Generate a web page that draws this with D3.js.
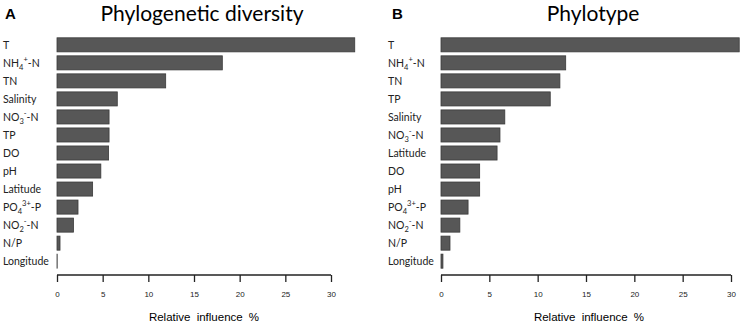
<!DOCTYPE html>
<html>
<head>
<meta charset="utf-8">
<script src="https://cdn.jsdelivr.net/npm/d3@7"></script>
<style>
  body { margin: 0; background: #fff; }
  svg { display: block; }
</style>
</head>
<body>
<svg id="chart" width="743" height="334"></svg>
<script>
// ---- data ----
var varsA = ["T", "NH4+-N", "TN", "Salinity", "NO3--N", "TP", "DO", "pH", "Latitude", "PO43+-P", "NO2--N", "N/P", "Longitude"];
var valsA = [32.6, 18.1, 11.9, 6.6, 5.7, 5.7, 5.65, 4.8, 3.9, 2.3, 1.8, 0.33, 0.02];

var varsB = ["T", "NH4+-N", "TN", "TP", "Salinity", "NO3--N", "Latitude", "DO", "pH", "PO43+-P", "NO2--N", "N/P", "Longitude"];
var valsB = [30.85, 12.9, 12.3, 11.3, 6.6, 6.1, 5.8, 4.0, 4.0, 2.8, 1.95, 0.93, 0.2];

var xTicks = [0, 5, 10, 15, 20, 25, 30];

// chemical labels: [main, sub, sup, rest]
var chem = {
  "NH4+-N": ["NH", "4", "+", "-N"],
  "NO3--N": ["NO", "3", "-", "-N"],
  "PO43+-P": ["PO", "4", "3+", "-P"],
  "NO2--N": ["NO", "2", "-", "-N"]
};

var svg = d3.select("#chart");

function panel(opts) {
  var g = svg.append("g");

  var x = d3.scaleLinear().domain([0, 30]).range([opts.x0, opts.x30]);
  var y = d3.scaleBand().domain(d3.range(opts.names.length))
    .range([36, 270]).paddingInner(0.22).paddingOuter(0.1);

  // panel letter + title
  g.append("text")
    .attr("x", opts.letterX).attr("y", 19)
    .style("font-family", "Liberation Sans, Arial, sans-serif")
    .style("font-weight", "bold").style("font-size", "15px")
    .text(opts.letter);

  g.append("text")
    .attr("x", opts.titleX).attr("y", 21)
    .attr("text-anchor", "middle")
    .style("font-family", "Lato, sans-serif").style("font-size", "21px")
    .text(opts.title);

  // bars
  g.selectAll("rect.bar")
    .data(opts.values)
    .enter().append("rect")
    .attr("class", "bar")
    .attr("x", x(0))
    .attr("y", function (d, i) { return y(i); })
    .attr("width", function (d) { return x(d) - x(0); })
    .attr("height", y.bandwidth())
    .style("fill", "#575757")
    .style("stroke", "#3a3a3a")
    .style("stroke-width", 0.8);

  // variable labels
  var lab = g.selectAll("text.lab")
    .data(opts.names)
    .enter().append("text")
    .attr("class", "lab")
    .attr("x", opts.labelX)
    .attr("y", function (d, i) { return y(i) + y.bandwidth() / 2 + 4; })
    .style("font-family", "Lato, sans-serif").style("font-size", "10.5px")
    .style("fill", "#222");

  lab.each(function (d) {
    var t = d3.select(this);
    var c = chem[d];
    if (!c) { t.text(d); return; }
    t.append("tspan").text(c[0]);
    t.append("tspan").attr("dy", 3).style("font-size", "7.5px").text(c[1]);
    t.append("tspan").attr("dy", -8).style("font-size", "7.5px").text(c[2]);
    t.append("tspan").attr("dy", 5).text(c[3]);
  });

  // x axis
  var axis = d3.axisBottom(x).tickValues(xTicks).tickSize(7).tickPadding(9)
    .tickFormat(d3.format("d"));
  var ax = g.append("g")
    .attr("transform", "translate(0,275)")
    .call(axis);
  ax.select(".domain").attr("d", "M" + x(0) + ",0H" + x(30))
    .style("stroke", "#222").style("stroke-width", 1.3);
  ax.selectAll(".tick line").style("stroke", "#222").style("stroke-width", 1.3);
  ax.selectAll(".tick text")
    .style("font-family", "Liberation Sans, Arial, sans-serif")
    .style("font-size", "8px").style("fill", "#222");

  g.append("text")
    .attr("x", opts.xTitleX).attr("y", 321)
    .attr("text-anchor", "middle")
    .style("font-family", "Liberation Sans, Arial, sans-serif")
    .style("font-size", "11.5px").style("word-spacing", "3px")
    .text("Relative influence %");
}

panel({ names: varsA, values: valsA, x0: 57, x30: 331, labelX: 3,
  letter: "A", letterX: 5, title: "Phylogenetic diversity", titleX: 202, xTitleX: 204 });

panel({ names: varsB, values: valsB, x0: 441, x30: 731, labelX: 388,
  letter: "B", letterX: 392, title: "Phylotype", titleX: 593, xTitleX: 589 });
</script>
</body>
</html>
